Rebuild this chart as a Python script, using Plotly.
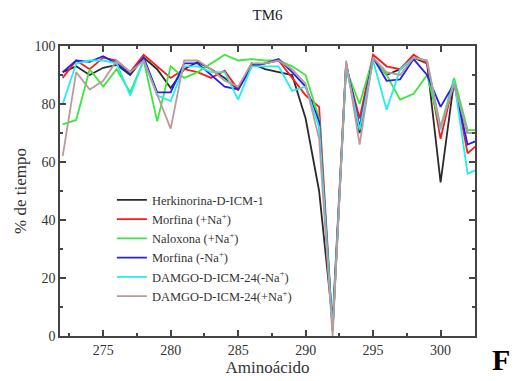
import plotly.graph_objects as go

residues = list(range(272, 304))

herkinorina = [91, 93, 90, 92.5, 93.5, 90, 96, 92, 85.5, 92, 94.5, 92, 89, 85, 94, 92, 91, 90,
               75, 50, 5, 94, 70, 96, 90, 92, 96, 94, 53, 88, 70, 70]
morfina_na = [89, 95, 92, 96, 95, 91, 97, 93, 89, 92, 91, 89, 91.5, 85, 93, 94, 95, 89,
              83, 79, 2, 93, 75, 97, 93, 92, 97, 94, 68, 88, 63, 67]
naloxona_na = [73, 74.5, 92, 86, 92, 84, 95, 74, 93, 89, 91, 94, 97, 95, 95.5, 95, 95, 93,
               90, 75, 2, 92, 80, 96, 90, 81.5, 83.5, 90, 72, 89, 71, 71]
morfina_sin = [91, 95, 94.5, 96.5, 94, 90.5, 96, 84, 84, 94, 94, 90, 86, 85, 93, 94, 95.5, 91,
               86, 74, 2, 94, 72, 96, 88, 88.5, 95.5, 90, 79, 87, 66, 68]
damgo_sin = [80, 94, 95, 95, 94, 83, 95, 83, 81, 93, 93, 91, 91, 81.5, 93, 93, 93, 84.5,
             86, 72, 2, 93, 71, 95, 78, 92, 96, 95, 71, 88, 56, 58]
damgo_na = [62, 91, 85, 88, 95, 91, 95, 83, 71.5, 95, 95, 92, 88, 86, 94, 94, 95, 92,
            87, 68, 0, 95, 66, 96, 91, 90, 96, 95, 72, 87, 70, 70]

names = ["Herkinorina-D-ICM-1", "Morfina (+Na<sup>+</sup>)", "Naloxona (+Na<sup>+</sup>)",
         "Morfina (-Na<sup>+</sup>)", "DAMGO-D-ICM-24(-Na<sup>+</sup>)", "DAMGO-D-ICM-24(+Na<sup>+</sup>)"]
series = [herkinorina, morfina_na, naloxona_na, morfina_sin, damgo_sin, damgo_na]
colors = ["#2a2a2a", "#ff1a1a", "#3de63d", "#2222ee", "#22eeee", "#bc9a9a"]

xticks = [275, 280, 285, 290, 295, 300]
yticks = [0, 20, 40, 60, 80, 100]

fig = go.Figure()
for name, vals, col in zip(names, series, colors):
    fig.add_trace(go.Scatter(x=residues, y=vals, mode="lines", name=name,
                             line=dict(color=col, width=1.8)))

font_family = "Liberation Serif"
axis_common = dict(
    showline=True, linecolor="#444444", linewidth=1.5, mirror="allticks",
    ticks="inside", ticklen=6, tickwidth=1.5, tickcolor="#444444",
    showgrid=False, zeroline=False,
    tickfont=dict(family=font_family, size=14, color="#333333"),
)
fig.update_xaxes(range=[271.8, 302.55], tickvals=xticks,
                 minor=dict(ticks="inside", ticklen=3, tickwidth=1.5, tickcolor="#444444", dtick=2.5, tick0=272.5),
                 title=dict(text="Aminoácido", font=dict(family=font_family, size=17, color="#333333"), standoff=0),
                 **axis_common)
fig.update_yaxes(range=[0, 100], tickvals=yticks,
                 minor=dict(ticks="inside", ticklen=3, tickwidth=1.5, tickcolor="#444444", dtick=10),
                 title=dict(text="% de tiempo", font=dict(family=font_family, size=17, color="#333333"), standoff=4),
                 **axis_common)

fig.update_layout(
    width=528, height=381,
    margin=dict(l=60, r=53, t=46, b=42),
    paper_bgcolor="white", plot_bgcolor="white",
    title=dict(text="TM6", x=0.5, xref="paper", y=0.96, yanchor="middle",
               font=dict(family=font_family, size=15, color="#222222")),
    legend=dict(x=0.125, y=0.52, xanchor="left", yanchor="top", bgcolor="rgba(0,0,0,0)",
                font=dict(family=font_family, size=12.5, color="#333333"), tracegroupgap=0),
    showlegend=True,
    annotations=[dict(text="<b>F</b>", x=1.09, y=-0.145, xref="paper", yref="paper",
                      showarrow=False, font=dict(family=font_family, size=30, color="black"))],
)

fig.write_html("out.html", config={"displayModeBar": False},
               post_script="document.body.style.margin='0';")
